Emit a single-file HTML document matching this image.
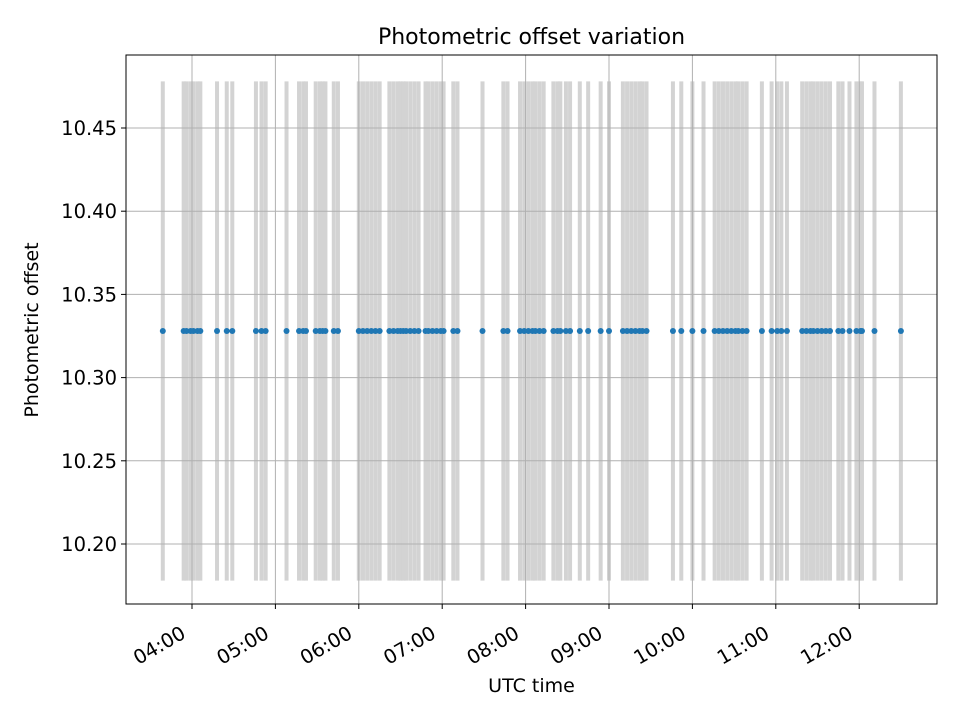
<!DOCTYPE html>
<html><head><meta charset="utf-8"><style>
body{margin:0;background:#fff}
svg{display:block;font-family:"DejaVu Sans","Liberation Sans",sans-serif}
</style></head><body>
<svg id="chart" width="960" height="720" viewBox="0 0 960 720">
<rect x="0" y="0" width="960" height="720" fill="#fff"/>
<g id="bars"></g><g id="grid"></g><g id="dots"></g><g id="axes"></g>
<text x="531.5" y="44" font-size="22" text-anchor="middle" fill="#000">Photometric offset variation</text>
<text x="531.5" y="692" font-size="19" text-anchor="middle" fill="#000">UTC time</text>
<text transform="translate(38,330) rotate(-90)" font-size="19" text-anchor="middle" fill="#000">Photometric offset</text>
</svg>
<script>
const times=["03:39","03:54","03:56","03:59","04:01","04:04","04:06","04:18","04:25","04:29","04:46","04:50","04:53","05:08","05:17","05:20","05:22","05:29","05:32","05:34","05:36","05:42","05:45","06:00","06:03","06:06","06:09","06:12","06:15","06:22","06:25","06:28","06:30","06:32","06:34","06:37","06:40","06:43","06:48","06:50","06:53","06:56","06:59","07:01","07:08","07:11","07:29","07:44","07:47","07:56","07:59","08:02","08:05","08:07","08:10","08:13","08:20","08:23","08:25","08:29","08:32","08:39","08:45","08:54","09:00","09:10","09:13","09:16","09:19","09:22","09:24","09:27","09:46","09:52","10:00","10:08","10:16","10:19","10:22","10:25","10:28","10:31","10:33","10:36","10:39","10:50","10:57","11:01","11:04","11:08","11:19","11:22","11:25","11:27","11:30","11:33","11:36","11:39","11:45","11:48","11:53","11:58","12:01","12:02","12:11","12:30"];
const offsetValue=10.328;
const offsetError=0.15;
const yTicks=[10.20,10.25,10.30,10.35,10.40,10.45];
const xTickLabels=["04:00","05:00","06:00","07:00","08:00","09:00","10:00","11:00","12:00"];
const NS="http://www.w3.org/2000/svg";
const L=126,R=937,T=55,B=604;
function toMin(s){const p=s.split(":");return +p[0]*60+ +p[1];}
function X(m){return 192+(m-240)*83.4/60;}
function Y(v){return 544-(v-10.20)*1664;}
function mk(tag,attrs,parent){const e=document.createElementNS(NS,tag);for(const k in attrs)e.setAttribute(k,attrs[k]);parent.appendChild(e);return e;}
const bars=document.getElementById('bars'),grid=document.getElementById('grid'),dots=document.getElementById('dots'),axes=document.getElementById('axes');
times.forEach(t=>{const x=X(toMin(t));
 const b=mk('line',{x1:x,x2:x,y1:Y(offsetValue+offsetError),y2:Y(offsetValue-offsetError),stroke:'#d3d3d3','stroke-width':4},bars);
 
 
 const d=mk('circle',{cx:x,cy:Y(offsetValue),r:3,fill:'#1f77b4'},dots);
 
 
});
yTicks.forEach(v=>{const y=Y(v);
 const g=mk('line',{x1:L,x2:R,y1:y,y2:y,stroke:'#b0b0b0','stroke-width':1},grid);
 
 
 mk('line',{x1:L-5,x2:L,y1:y,y2:y,stroke:'#000','stroke-width':1},axes);
 const tx=mk('text',{x:L-9,y:y+7,'font-size':19.5,'text-anchor':'end',fill:'#000'},axes);
 tx.textContent=v.toFixed(2);
 
 
});
xTickLabels.forEach(s=>{const x=X(toMin(s));
 const g=mk('line',{x1:x,x2:x,y1:T,y2:B,stroke:'#b0b0b0','stroke-width':1},grid);
 
 
 mk('line',{x1:x,x2:x,y1:B,y2:B+5,stroke:'#000','stroke-width':1},axes);
 const tx=mk('text',{transform:`translate(${x-5},${B+33}) rotate(-30)`,'font-size':19.5,'text-anchor':'end',fill:'#000'},axes);
 tx.textContent=s;
 
 
});
const f=mk('rect',{x:L,y:T,width:R-L,height:B-T,fill:'none',stroke:'#000','stroke-width':1},axes);


</script>
</body></html>
